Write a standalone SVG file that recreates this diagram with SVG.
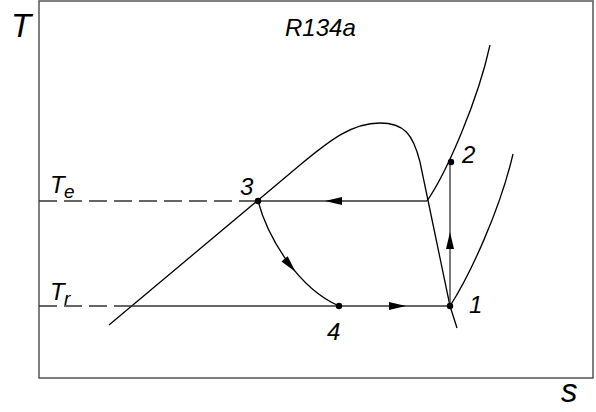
<svg xmlns="http://www.w3.org/2000/svg" width="596" height="412" viewBox="0 0 596 412">
<style>
.frame{fill:none;stroke:#555;stroke-width:1.5}
.ln{fill:none;stroke:#000;stroke-width:1.3}
.cyc{fill:none;stroke:#333;stroke-width:1.3}
.dash{fill:none;stroke:#333;stroke-width:1.3;stroke-dasharray:18 7}
.ah{fill:#000;stroke:none}
.pt{fill:#000}
text{font-family:"Liberation Sans",Arial,sans-serif;font-style:italic;fill:#000}
.lbl{font-size:24px}
.big{font-size:33px}
.sub{font-size:19px}
</style>
<rect class="frame" x="39" y="1" width="554" height="377"/>
<text class="big" x="11" y="37">T</text>
<text class="big" x="561" y="402">s</text>
<text class="lbl" x="285" y="36">R134a</text>
<g id="curves">
<path id="dome" class="ln" d="M109,325 L300,165 C330,140 352,123 380,123 C404,123 413,134 420,162 C428,200 442,268 450,306 L457,328"/>
<path id="isobar-high" class="ln" d="M427,201 C447,172 478,100 490,45"/>
<path id="isobar-low" class="ln" d="M450,306 C470,275 500,210 513,154"/>
</g>
<g id="connectors">
<path class="dash" d="M39,201 H258"/>
<path class="dash" d="M39,306 H122"/>
<path class="cyc" d="M258,201 H427"/>
<path class="cyc" d="M122,306 H450"/>
<path class="cyc" d="M450,306 V162"/>
<path class="ln" d="M258,201 C268,238 298,288 339,306"/>
<polygon class="ah" points="325,201 342,197 342,205"/>
<polygon class="ah" points="406,306 389,302 389,310"/>
<polygon class="ah" points="450,232 446,249 454,249"/>
<polygon class="ah" points="295.6,271.9 287.7,256.3 281.5,261.5"/>
</g>
<g id="labels">
<text class="lbl" x="50" y="193">T</text><text class="sub" x="64" y="198">e</text>
<text class="lbl" x="50" y="300">T</text><text class="sub" x="64" y="305">r</text>
</g>
<g id="p1"><circle class="pt" cx="450" cy="306" r="3.2"/><text class="lbl" x="469" y="313">1</text></g>
<g id="p2"><circle class="pt" cx="451" cy="162" r="3.2"/><text class="lbl" x="462" y="163">2</text></g>
<g id="p3"><circle class="pt" cx="258" cy="201" r="3.2"/><text class="lbl" x="240" y="195">3</text></g>
<g id="p4"><circle class="pt" cx="339" cy="306" r="3.2"/><text class="lbl" x="327" y="340">4</text></g>
</svg>
